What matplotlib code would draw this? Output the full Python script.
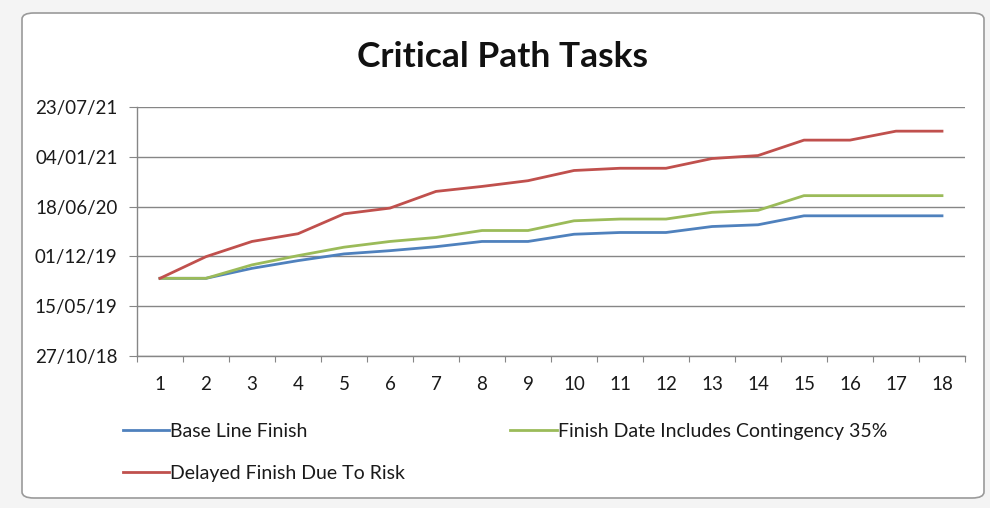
import matplotlib
matplotlib.use("Agg")
import matplotlib.pyplot as plt
import matplotlib.dates as mdates
from matplotlib.patches import FancyBboxPatch
import datetime as dt

plt.rcParams['font.family'] = ['Lato', 'DejaVu Sans']

title = "Critical Path Tasks"
tasks = list(range(1, 19))
series_names = ["Base Line Finish", "Finish Date Includes Contingency 35%", "Delayed Finish Due To Risk"]

base_line = ["2019-09-04", "2019-09-04", "2019-10-14", "2019-11-14", "2019-12-11", "2019-12-24",
             "2020-01-09", "2020-01-30", "2020-01-30", "2020-02-28", "2020-03-06", "2020-03-06",
             "2020-03-30", "2020-04-06", "2020-05-12", "2020-05-12", "2020-05-12", "2020-05-12"]
contingency = ["2019-09-04", "2019-09-04", "2019-10-28", "2019-12-04", "2020-01-07", "2020-01-30",
               "2020-02-15", "2020-03-14", "2020-03-14", "2020-04-22", "2020-04-29", "2020-04-29",
               "2020-05-26", "2020-06-03", "2020-08-01", "2020-08-01", "2020-08-01", "2020-08-01"]
delayed = ["2019-09-04", "2019-11-30", "2020-01-30", "2020-03-01", "2020-05-20", "2020-06-12",
           "2020-08-18", "2020-09-07", "2020-09-30", "2020-11-10", "2020-11-19", "2020-11-19",
           "2020-12-28", "2021-01-09", "2021-03-12", "2021-03-12", "2021-04-17", "2021-04-17"]

y_tick_labels = ["27/10/18", "15/05/19", "01/12/19", "18/06/20", "04/01/21", "23/07/21"]

colors = ["#4F81BD", "#9BBB59", "#C0504D"]


def to_num(lst):
    return [mdates.date2num(dt.datetime.strptime(s, "%Y-%m-%d")) for s in lst]


def tick_num(s):
    return mdates.date2num(dt.datetime.strptime(s, "%d/%m/%y"))


fig = plt.figure(figsize=(9.9, 5.08), dpi=100)
fig.patch.set_facecolor("#f4f4f4")

border = FancyBboxPatch((22 / 990, 10 / 508), 962 / 990, 485 / 508,
                        boxstyle="round,pad=0,rounding_size=0.012",
                        transform=fig.transFigure, facecolor="white",
                        edgecolor="#9a9a9a", linewidth=1.2, zorder=-5)
fig.patches.append(border)

ax = fig.add_axes([137 / 990, 1 - 356 / 508, (965 - 137) / 990, (356 - 107) / 508])
ax.set_zorder(2)
ax.set_facecolor("none")

lines = []
for name, data, c in zip(series_names, [base_line, contingency, delayed], colors):
    ln, = ax.plot(tasks, to_num(data), color=c, linewidth=2.0, solid_joinstyle="round", label=name)
    lines.append(ln)

yt = [tick_num(s) for s in y_tick_labels]
ax.set_ylim(yt[0], yt[-1])
ax.set_yticks(yt)
ax.set_yticklabels(y_tick_labels, fontsize=13.5, color="#1a1a1a")
ax.yaxis.grid(True, color="#868686", linewidth=1.0)
ax.set_axisbelow(True)

ax.set_xlim(0.5, 18.5)
ax.set_xticks([i + 0.5 for i in range(0, 19)])
ax.set_xticklabels([])
ax.set_xticks(tasks, minor=True)
ax.set_xticklabels([str(t) for t in tasks], minor=True, fontsize=13.5, color="#1a1a1a")
ax.tick_params(axis="x", which="major", length=4.3, color="#868686", direction="out")
ax.tick_params(axis="x", which="minor", length=0, pad=14.5)
ax.tick_params(axis="y", length=5.8, color="#868686", direction="out", pad=8.2)

for s in ["top", "right"]:
    ax.spines[s].set_visible(False)
for s in ["left", "bottom"]:
    ax.spines[s].set_color("#868686")
    ax.spines[s].set_linewidth(1.0)

fig.text(502 / 990, 1 - 57 / 508, title, ha="center", va="center",
         fontsize=25.5, fontweight="bold", color="#111111", zorder=3)

handles = [lines[0], lines[2], lines[1]]
labels = [series_names[0], series_names[2], series_names[1]]
leg = fig.legend(handles, labels, ncol=2, loc="upper left",
                 bbox_to_anchor=(113 / 990, 1 - 413 / 508), frameon=False,
                 borderpad=0, fontsize=14, handlelength=2.4, handletextpad=0.05,
                 columnspacing=5.4, labelspacing=1.3)
leg.set_zorder(3)
for t in leg.get_texts():
    t.set_color("#1a1a1a")

fig.savefig("out.png", dpi=100, facecolor=fig.get_facecolor())
